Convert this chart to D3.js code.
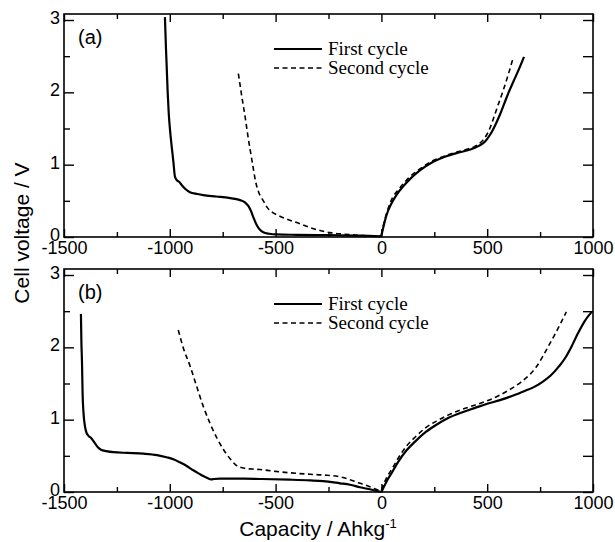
<!DOCTYPE html>
<html>
<head>
<meta charset="utf-8">
<style>
  body { margin: 0; background: #fff; }
  .axis .domain { display: none; }
</style>
<script src="https://d3js.org/d3.v7.min.js"></script>
</head>
<body>
<svg width="615" height="542"></svg>
<script>

// x ticks and y ticks
var xMajor = [-1500, -1000, -500, 0, 500, 1000];
var xMinor = [-1250, -750, -250, 250, 750];
var yMajor = [0, 1, 2, 3];
var yMinor = [0.5, 1.5, 2.5];

// panel (a) : [capacity, voltage]
var aFirstDis = [[-1023, 3.04], [-1018, 2.6], [-1015, 2.38], [-1010, 2.0], [-1005, 1.71], [-998, 1.45],
  [-991, 1.25], [-983, 1.04], [-976, 0.84], [-968, 0.79], [-955, 0.76], [-944, 0.72], [-925, 0.66],
  [-905, 0.62], [-870, 0.595], [-842, 0.58], [-780, 0.56], [-720, 0.54], [-668, 0.51], [-645, 0.48],
  [-629, 0.43], [-615, 0.35], [-605, 0.27], [-590, 0.17], [-574, 0.10], [-558, 0.065], [-530, 0.045],
  [-495, 0.035], [-400, 0.03], [-250, 0.025], [-100, 0.02], [0, 0.01]];
var aFirstCha = [[0, 0.02], [8, 0.12], [24, 0.30], [45, 0.45], [71, 0.58], [103, 0.70], [135, 0.80],
  [182, 0.92], [245, 1.04], [300, 1.11], [355, 1.16], [420, 1.21], [460, 1.26], [490, 1.32], [515, 1.42],
  [540, 1.56], [560, 1.69], [580, 1.84], [600, 1.99], [624, 2.15], [650, 2.32], [674, 2.49]];
var aSecondDis = [[-676, 2.26], [-660, 1.95], [-643, 1.64], [-630, 1.38], [-617, 1.15], [-605, 0.94],
  [-594, 0.76], [-580, 0.62], [-558, 0.50], [-540, 0.41], [-515, 0.34], [-490, 0.30], [-450, 0.25],
  [-400, 0.20], [-337, 0.13], [-290, 0.09], [-243, 0.06], [-180, 0.04], [-87, 0.02], [0, 0.01]];
var aSecondCha = [[0, 0.03], [8, 0.14], [41, 0.47], [88, 0.68], [130, 0.82], [182, 0.94], [240, 1.05],
  [300, 1.12], [340, 1.16], [400, 1.21], [440, 1.25], [470, 1.31], [495, 1.40], [515, 1.52], [532, 1.66],
  [552, 1.83], [576, 2.03], [600, 2.25], [620, 2.45]];

// panel (b)
var bFirstDis = [[-1420, 2.46], [-1418, 2.1], [-1415, 1.8], [-1412, 1.35], [-1408, 1.1], [-1401, 0.91],
  [-1394, 0.82], [-1385, 0.78], [-1370, 0.74], [-1355, 0.68], [-1340, 0.62], [-1325, 0.585], [-1300, 0.565],
  [-1267, 0.55], [-1200, 0.54], [-1125, 0.53], [-1060, 0.51], [-1015, 0.48], [-980, 0.45], [-952, 0.41],
  [-920, 0.36], [-889, 0.30], [-860, 0.25], [-842, 0.22], [-820, 0.19], [-805, 0.175], [-790, 0.18],
  [-763, 0.185], [-650, 0.185], [-574, 0.18], [-432, 0.17], [-337, 0.16], [-275, 0.15], [-196, 0.12],
  [-148, 0.10], [-101, 0.065], [-50, 0.035], [0, 0.0]];
var bFirstCha = [[0, 0], [25, 0.15], [50, 0.27], [80, 0.42], [120, 0.58], [160, 0.70], [210, 0.83],
  [260, 0.93], [320, 1.03], [380, 1.10], [440, 1.16], [500, 1.22], [560, 1.27], [620, 1.33], [680, 1.40],
  [720, 1.45], [760, 1.52], [800, 1.61], [840, 1.74], [870, 1.86], [900, 2.02], [930, 2.2], [960, 2.36],
  [994, 2.49]];
var bSecondDis = [[-960, 2.24], [-935, 1.98], [-905, 1.75], [-872, 1.45], [-840, 1.17], [-810, 0.95],
  [-778, 0.75], [-745, 0.58], [-715, 0.46], [-690, 0.38], [-670, 0.345], [-640, 0.325], [-600, 0.315],
  [-574, 0.31], [-500, 0.285], [-432, 0.265], [-337, 0.245], [-275, 0.235], [-196, 0.21], [-148, 0.17],
  [-101, 0.12], [-69, 0.09], [-35, 0.05], [0, 0.01]];
var bSecondCha = [[0, 0.03], [25, 0.2], [50, 0.32], [80, 0.47], [120, 0.64], [160, 0.76], [210, 0.89],
  [260, 0.98], [320, 1.07], [380, 1.14], [440, 1.20], [500, 1.26], [560, 1.34], [620, 1.44], [660, 1.52],
  [700, 1.62], [730, 1.72], [760, 1.86], [790, 2.02], [820, 2.18], [850, 2.35], [874, 2.49]];

var legendNames = ["First cycle", "Second cycle"];

var svg = d3.select("svg"),
  left = 64, right = 593, ph = 223;

var x = d3.scaleLinear().domain([-1500, 1000]).range([left, right]);

var sans = "'Liberation Sans', Arial, sans-serif";
var plain = function(d) { return String(d); };   // keep ascii hyphen

function panel(top, label, first, second) {
  var y = d3.scaleLinear().domain([0, 3.083]).range([top + ph, top]);
  var g = svg.append("g");

  var line = d3.line()
    .x(function(d) { return x(d[0]); })
    .y(function(d) { return y(d[1]); })
    .curve(d3.curveMonotoneX);

  // curves
  first.forEach(function(s) {
    g.append("path").attr("d", line(s)).attr("fill", "none")
      .attr("stroke", "#000").attr("stroke-width", 2.2).attr("stroke-linejoin", "round");
  });
  second.forEach(function(s) {
    g.append("path").attr("d", line(s)).attr("fill", "none")
      .attr("stroke", "#000").attr("stroke-width", 1.6).attr("stroke-dasharray", "5,3.5");
  });

  // ticks
  function ax(a, tr) {
    var n = g.append("g").attr("class", "axis").attr("transform", tr).call(a);
    n.attr("font-size", 18).attr("font-family", sans);
    n.selectAll("line").attr("stroke-width", 1.4);
    n.selectAll("text").attr("fill", "#000");
    return n;
  }
  ax(d3.axisBottom(x).tickValues(xMajor).tickSize(-8).tickPadding(4).tickFormat(plain),
    "translate(0," + (top + ph) + ")");
  ax(d3.axisBottom(x).tickValues(xMinor).tickSize(-5).tickFormat(""), "translate(0," + (top + ph) + ")");
  ax(d3.axisTop(x).tickValues(xMajor).tickSize(-8).tickFormat(""), "translate(0," + top + ")");
  ax(d3.axisTop(x).tickValues(xMinor).tickSize(-5).tickFormat(""), "translate(0," + top + ")");
  ax(d3.axisLeft(y).tickValues(yMajor).tickSize(-10).tickPadding(4).tickFormat(plain),
    "translate(" + left + ",0)")
    .selectAll("text").attr("dy", "0.2em");
  ax(d3.axisLeft(y).tickValues(yMinor).tickSize(-6).tickFormat(""), "translate(" + left + ",0)");
  ax(d3.axisRight(y).tickValues(yMajor.concat(yMinor)).tickSize(-10).tickFormat(""), "translate(" + right + ",0)");

  // frame
  g.append("rect").attr("x", left).attr("y", top).attr("width", right - left).attr("height", ph)
    .attr("fill", "none").attr("stroke", "#000").attr("stroke-width", 1.6);

  g.append("text").attr("x", left + 14).attr("y", top + 30)
    .attr("font-family", sans).attr("font-size", 20).text(label);

  // legend
  var lg = g.append("g").attr("font-family", "'Liberation Serif', 'Times New Roman', serif").attr("font-size", 19);
  legendNames.forEach(function(nm, i) {
    var ly = top + 35 + i * 19;
    lg.append("line").attr("x1", 274).attr("x2", 322).attr("y1", ly).attr("y2", ly)
      .attr("stroke", "#000").attr("stroke-width", i ? 1.5 : 2.2)
      .attr("stroke-dasharray", i ? "5,3.5" : null);
    lg.append("text").attr("x", 328).attr("y", ly + 6).text(nm);
  });
}

panel(14, "(a)", [aFirstDis, aFirstCha], [aSecondDis, aSecondCha]);
panel(269, "(b)", [bFirstDis, bFirstCha], [bSecondDis, bSecondCha]);

// axis titles
svg.append("text")
  .attr("transform", "translate(29,233) rotate(-90)")
  .attr("text-anchor", "middle")
  .attr("font-family", sans).attr("font-size", 21)
  .text("Cell voltage / V");

var xt = svg.append("text")
  .attr("x", 318).attr("y", 536)
  .attr("text-anchor", "middle")
  .attr("font-family", sans).attr("font-size", 21);
xt.append("tspan").text("Capacity / Ahkg");
xt.append("tspan").attr("dy", -8).attr("font-size", 13).text("-1");

</script>
</body>
</html>
